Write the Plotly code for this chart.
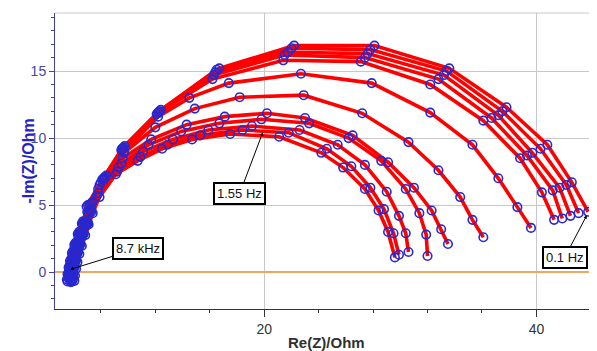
import plotly.graph_objects as go

# ---- Data (Re(Z), -Im(Z) in Ohm) ----
# Outer bundle of spectra
spec01_re = [5.55, 5.60, 5.68, 5.78, 5.92, 6.10, 6.35, 6.65, 6.95, 8.10, 9.50, 12.1, 16.2, 21.4, 27.1, 32.2, 36.1, 38.8, 40.4, 41.3]
spec01_im = [-0.7, -0.3, 0.2, 0.7, 1.3, 1.9, 2.7, 3.5, 4.9, 6.9, 9.1, 11.8, 14.4, 15.8, 15.7, 14.0, 11.3, 8.5, 5.95, 3.9]
spec02_re = [5.65, 5.70, 5.78, 5.88, 6.02, 6.20, 6.45, 6.75, 7.05, 8.20, 9.55, 12.2, 16.3, 21.5, 27.4, 32.8, 36.7, 39.3, 41.2, 41.9]
spec02_im = [-0.5, -0.1, 0.4, 0.9, 1.5, 2.1, 2.9, 3.7, 5.0, 7.0, 9.2, 11.9, 14.7, 16.2, 16.0, 14.4, 11.5, 8.7, 6.1, 4.0]
spec03_re = [5.75, 5.80, 5.88, 5.98, 6.12, 6.30, 6.55, 6.85, 7.15, 8.25, 9.60, 12.25, 16.4, 21.75, 27.6, 33.2, 37.2, 39.7, 41.7, 42.5]
spec03_im = [-0.6, -0.2, 0.3, 0.8, 1.4, 2.0, 2.8, 3.6, 5.0, 7.0, 9.2, 11.9, 14.9, 16.4, 16.3, 14.7, 11.7, 8.9, 6.3, 4.2]
spec04_re = [5.85, 5.90, 5.98, 6.08, 6.22, 6.40, 6.65, 6.95, 7.25, 8.30, 9.65, 12.3, 16.5, 22.0, 27.8, 33.4, 37.5, 40.3, 42.2, 43.1]
spec04_im = [-0.7, -0.3, 0.2, 0.7, 1.3, 1.9, 2.7, 3.5, 5.1, 7.1, 9.3, 12.0, 15.1, 16.7, 16.6, 15.0, 12.0, 9.2, 6.5, 4.4]
spec05_re = [5.95, 6.00, 6.08, 6.18, 6.32, 6.50, 6.75, 7.05, 7.35, 8.40, 9.75, 12.4, 16.7, 22.2, 28.1, 33.6, 37.8, 40.8, 42.6, 43.8]
spec05_im = [-0.5, -0.1, 0.4, 0.9, 1.5, 2.1, 2.9, 3.7, 5.2, 7.2, 9.4, 12.1, 15.2, 16.9, 16.9, 15.2, 12.3, 9.5, 6.7, 4.5]
# Inner spectra
spec06_re = [5.90, 5.95, 6.03, 6.13, 6.27, 6.45, 6.70, 7.00, 7.30, 8.20, 9.70, 12.2, 14.5, 17.4, 22.7, 27.9, 32.2, 35.3, 37.2, 38.6, 39.6]
spec06_im = [-0.6, -0.2, 0.3, 0.8, 1.4, 2.0, 2.8, 3.6, 4.7, 6.9, 9.0, 11.6, 13.0, 14.1, 14.8, 14.1, 11.9, 9.5, 7.0, 4.85, 3.3]
spec07_re = [5.70, 5.75, 5.83, 5.93, 6.07, 6.25, 6.50, 6.80, 7.20, 8.00, 9.70, 12.0, 14.9, 18.2, 22.9, 27.2, 30.6, 32.8, 34.4, 35.3, 36.1]
spec07_im = [-0.45, -0.05, 0.45, 0.95, 1.55, 2.15, 2.95, 3.75, 4.6, 6.7, 8.9, 10.8, 12.2, 13.05, 13.2, 11.85, 9.7, 7.6, 5.6, 3.9, 2.6]
spec08_re = [5.80, 5.85, 5.93, 6.03, 6.17, 6.35, 6.60, 6.90, 7.20, 7.90, 9.60, 11.7, 14.3, 17.1, 20.2, 23.0, 26.5, 29.1, 31.0, 32.3, 33.0, 33.5]
spec08_im = [-0.75, -0.35, 0.15, 0.65, 1.25, 1.85, 2.65, 3.45, 4.6, 6.5, 8.5, 9.9, 11.0, 11.6, 11.85, 11.5, 10.2, 8.2, 6.3, 4.6, 3.2, 2.1]
spec09_re = [5.50, 5.55, 5.63, 5.73, 5.87, 6.05, 6.30, 6.60, 7.00, 7.80, 9.50, 11.5, 13.9, 16.7, 19.8, 23.3, 26.2, 28.6, 30.4, 31.4, 31.9, 32.0]
spec09_im = [-0.55, -0.15, 0.35, 0.85, 1.45, 2.05, 2.85, 3.65, 4.5, 6.2, 8.1, 9.5, 10.5, 11.1, 11.4, 11.1, 10.0, 8.3, 6.2, 4.4, 2.8, 1.2]
spec10_re = [5.85, 5.90, 5.98, 6.08, 6.22, 6.40, 6.65, 6.95, 7.30, 7.80, 9.30, 11.1, 13.3, 15.9, 19.1, 22.6, 25.4, 27.4, 29.0, 29.9, 30.4, 30.6]
spec10_im = [-0.6, -0.2, 0.3, 0.8, 1.4, 2.0, 2.8, 3.6, 4.5, 5.9, 7.8, 9.0, 9.9, 10.6, 10.9, 10.6, 9.5, 8.0, 6.0, 4.2, 2.9, 1.5]
spec11_re = [5.60, 5.65, 5.73, 5.83, 5.97, 6.15, 6.40, 6.70, 7.10, 7.70, 9.20, 10.9, 12.9, 15.3, 18.4, 21.8, 24.6, 26.4, 27.8, 28.8, 29.5, 29.9]
spec11_im = [-0.4, 0.0, 0.5, 1.0, 1.6, 2.2, 3.0, 3.8, 4.4, 5.7, 7.5, 8.6, 9.5, 10.2, 10.6, 10.4, 9.2, 7.9, 6.3, 4.7, 2.9, 1.3]
spec12_re = [6.05, 6.10, 6.18, 6.28, 6.42, 6.60, 6.85, 7.10, 7.40, 7.90, 9.10, 10.7, 12.5, 14.7, 17.5, 21.1, 24.2, 25.8, 27.4, 28.4, 29.1, 29.6]
spec12_im = [-0.65, -0.25, 0.25, 0.75, 1.35, 1.95, 2.75, 3.55, 4.4, 5.6, 7.3, 8.3, 9.2, 9.9, 10.3, 10.1, 8.9, 7.8, 6.2, 4.6, 3.0, 1.1]

x_tick_vals = [20, 40]
x_minor_vals = [8, 12, 16, 24, 28, 32, 36, 44]
y_tick_vals = [0, 5, 10, 15]

# annotation labels: text and the (Re, -Im) point each one marks
label_texts = ["8.7 kHz", "1.55 Hz", "0.1 Hz"]
label_re = [5.74, 19.9, 43.7]
label_im = [0.2, 10.44, 4.24]

spectra = [
    (spec01_re, spec01_im), (spec02_re, spec02_im), (spec03_re, spec03_im),
    (spec04_re, spec04_im), (spec05_re, spec05_im), (spec06_re, spec06_im),
    (spec07_re, spec07_im), (spec08_re, spec08_im), (spec09_re, spec09_im),
    (spec10_re, spec10_im), (spec11_re, spec11_im), (spec12_re, spec12_im),
]

FONT = "Liberation Sans, Arial, sans-serif"
fig = go.Figure()
for re_, im_ in spectra:
    fig.add_trace(go.Scatter(x=re_, y=im_, mode="lines",
                             line=dict(color="#ff0000", width=3.6),
                             showlegend=False, hoverinfo="skip"))
for re_, im_ in spectra:
    fig.add_trace(go.Scatter(x=re_, y=im_, mode="markers",
                             marker=dict(symbol="circle-open", size=8.5, color="#2828d0",
                                         line=dict(width=1.6, color="#2828d0")),
                             showlegend=False, hoverinfo="skip"))

offsets = [(68, -21), (-23, 61), (-22, 42)]
for t, xr, yi, (ax, ay) in zip(label_texts, label_re, label_im, offsets):
    fig.add_annotation(x=xr, y=yi, xref="x", yref="y", text=t, showarrow=True,
                       ax=ax, ay=ay, arrowhead=2, arrowsize=0.7, arrowwidth=1,
                       arrowcolor="#000000", bgcolor="#ffffff", bordercolor="#000000",
                       borderwidth=2, borderpad=2,
                       font=dict(family=FONT, size=13, color="#111111"))

fig.add_annotation(x=0, y=0.5, xref="paper", yref="paper", xshift=-38,
                   text="<b>-Im(Z)/Ohm</b>", textangle=-90, showarrow=False,
                   font=dict(family=FONT, size=16, color="#2424c0"))
fig.add_annotation(x=0.5, y=0, xref="paper", yref="paper", yshift=-23, yanchor="top",
                   text="<b>Re(Z)/Ohm</b>", showarrow=False,
                   font=dict(family=FONT, size=15, color="#303030"))

fig.add_shape(type="line", xref="paper", yref="paper", x0=0, x1=1, y0=1, y1=1,
              line=dict(color="#c8c8c8", width=1))

# page body has an 8px margin, so the figure is sized to end at the window edge
fig.update_layout(
    width=589, height=343,
    margin=dict(l=47, r=0, t=5, b=42),
    paper_bgcolor="#ffffff", plot_bgcolor="#ffffff",
    font=dict(family=FONT),
    xaxis=dict(range=[4.63, 44.45], tickvals=x_tick_vals, ticks="outside", ticklen=7,
               tickcolor="#333333", showline=True, linecolor="#333333", linewidth=1,
               showgrid=True, gridcolor="#c8c8c8", gridwidth=1, zeroline=False,
               tickfont=dict(size=14, color="#333333"),
               minor=dict(tickvals=x_minor_vals, ticks="outside", ticklen=3,
                          tickcolor="#333333", showgrid=False)),
    yaxis=dict(range=[-2.75, 19.33], tickvals=y_tick_vals, ticks="outside", ticklen=5,
               tickcolor="#4040a0", showline=True, linecolor="#4040a0", linewidth=1,
               showgrid=True, gridcolor="#c8c8c8", gridwidth=1,
               zeroline=True, zerolinecolor="#f0a860", zerolinewidth=1.5,
               tickfont=dict(size=14, color="#4848a8"),
               minor=dict(dtick=1, ticks="outside", ticklen=3, tickcolor="#4040a0",
                          showgrid=False)),
)

fig.write_html("out.html")
